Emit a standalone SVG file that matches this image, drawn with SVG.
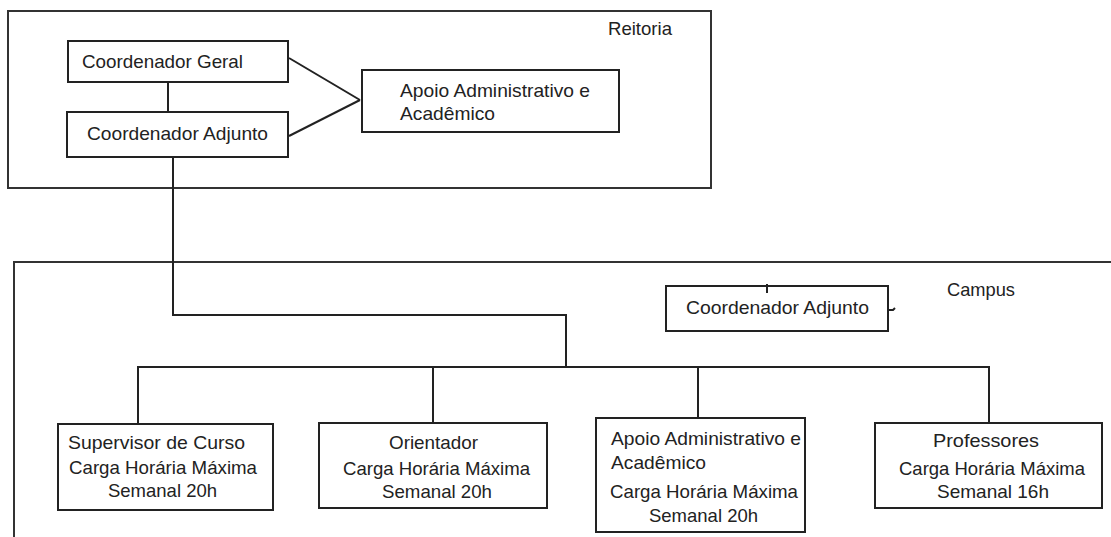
<svg xmlns="http://www.w3.org/2000/svg" width="1111" height="537" viewBox="0 0 1111 537">
<style>
.box{fill:#fff;stroke:#222;stroke-width:2}
.frame{fill:none;stroke:#333;stroke-width:2}
.ln{fill:none;stroke:#222;stroke-width:2}
text{font-family:"Liberation Sans",Arial,sans-serif;font-size:18.5px;fill:#222}
</style>
<rect width="1111" height="537" fill="#fff"/>
<g id="reitoria">
<rect class="frame" x="8" y="11" width="703" height="177"/>
<text x="608" y="35" textLength="64" lengthAdjust="spacingAndGlyphs">Reitoria</text>
</g>
<g id="campus">
<path class="frame" d="M1111,262 H14 V537"/>
<text x="947" y="296" textLength="68" lengthAdjust="spacingAndGlyphs">Campus</text>
</g>
<g id="coordenador-geral">
<rect class="box" x="68" y="41" width="220" height="41"/>
<text x="82" y="68" textLength="161" lengthAdjust="spacingAndGlyphs">Coordenador Geral</text>
</g>
<g id="coordenador-adjunto">
<rect class="box" x="67" y="112" width="221" height="45"/>
<text x="87" y="140" textLength="181" lengthAdjust="spacingAndGlyphs">Coordenador Adjunto</text>
</g>
<g id="apoio-reitoria">
<rect class="box" x="362" y="70" width="257" height="62"/>
<text x="400" y="97" textLength="190" lengthAdjust="spacingAndGlyphs">Apoio Administrativo e</text>
<text x="400" y="120" textLength="95" lengthAdjust="spacingAndGlyphs">Acadêmico</text>
</g>
<g id="coordenador-adjunto-campus">
<rect class="box" x="666" y="286" width="222" height="45"/>
<text x="686" y="314" textLength="183" lengthAdjust="spacingAndGlyphs">Coordenador Adjunto</text>
</g>
<g id="supervisor">
<rect class="box" x="58" y="424" width="215" height="86"/>
<text x="68" y="449" textLength="177" lengthAdjust="spacingAndGlyphs">Supervisor de Curso</text>
<text x="69" y="474" textLength="188" lengthAdjust="spacingAndGlyphs">Carga Horária Máxima</text>
<text x="108" y="497" textLength="109" lengthAdjust="spacingAndGlyphs">Semanal 20h</text>
</g>
<g id="orientador">
<rect class="box" x="319" y="423" width="228" height="85"/>
<text x="389" y="449" textLength="89" lengthAdjust="spacingAndGlyphs">Orientador</text>
<text x="343" y="475" textLength="187" lengthAdjust="spacingAndGlyphs">Carga Horária Máxima</text>
<text x="382" y="498" textLength="110" lengthAdjust="spacingAndGlyphs">Semanal 20h</text>
</g>
<g id="apoio-campus">
<rect class="box" x="596" y="418" width="209" height="114"/>
<text x="611" y="445" textLength="190" lengthAdjust="spacingAndGlyphs">Apoio Administrativo e</text>
<text x="611" y="469" textLength="95" lengthAdjust="spacingAndGlyphs">Acadêmico</text>
<text x="610" y="498" textLength="188" lengthAdjust="spacingAndGlyphs">Carga Horária Máxima</text>
<text x="649" y="522" textLength="109" lengthAdjust="spacingAndGlyphs">Semanal 20h</text>
</g>
<g id="professores">
<rect class="box" x="875" y="423" width="227" height="85"/>
<text x="933" y="447" textLength="106" lengthAdjust="spacingAndGlyphs">Professores</text>
<text x="899" y="475" textLength="186" lengthAdjust="spacingAndGlyphs">Carga Horária Máxima</text>
<text x="937" y="498" textLength="112" lengthAdjust="spacingAndGlyphs">Semanal 16h</text>
</g>
<g id="connectors">
<line class="ln" x1="168" y1="82" x2="168" y2="112"/>
<line class="ln" x1="289" y1="58" x2="360" y2="100"/>
<line class="ln" x1="289" y1="136" x2="360" y2="100"/>
<path class="ln" d="M173,157 V315 H566 V367"/>
<line class="ln" x1="137" y1="367" x2="990" y2="367"/>
<line class="ln" x1="138" y1="367" x2="138" y2="424"/>
<line class="ln" x1="433" y1="367" x2="433" y2="423"/>
<line class="ln" x1="698" y1="367" x2="698" y2="418"/>
<line class="ln" x1="989" y1="367" x2="989" y2="423"/>
<line class="ln" x1="767" y1="284" x2="767" y2="293"/>
<path class="ln" d="M888,310 L893,310 L895,308" stroke-width="1.5"/>
</g>
</svg>
